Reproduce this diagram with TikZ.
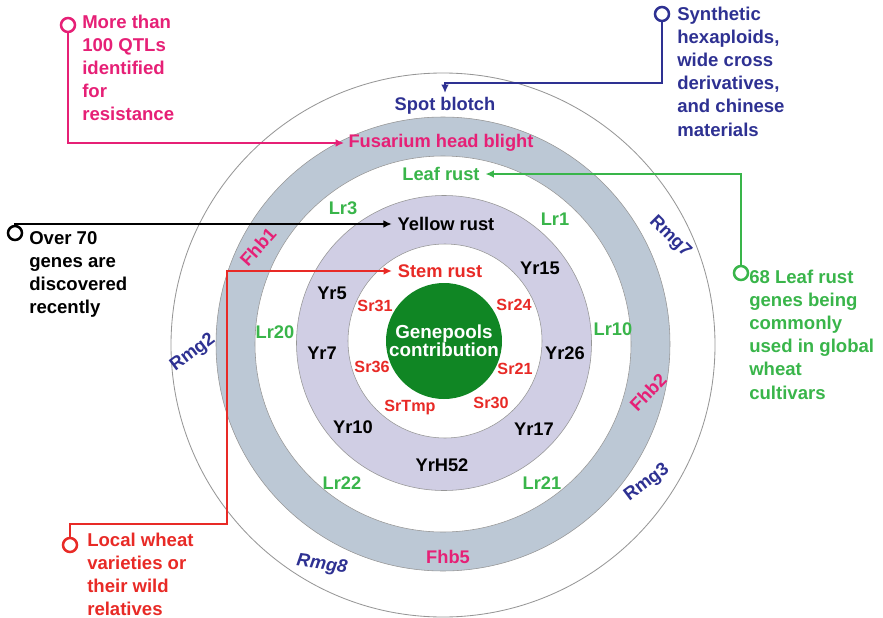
\documentclass[tikz,border=0pt]{standalone}
\usepackage{fontspec}
\setmainfont{Liberation Sans}
\usetikzlibrary{arrows.meta}

\definecolor{spotblue}{RGB}{46,49,146}
\definecolor{fhbpink}{RGB}{230,32,118}
\definecolor{lrgreen}{RGB}{57,181,74}
\definecolor{srred}{RGB}{232,42,38}
\definecolor{poolgreen}{RGB}{16,134,36}
\definecolor{ringgray}{RGB}{188,200,213}
\definecolor{ringpurple}{RGB}{208,206,228}
\definecolor{ringedge}{RGB}{150,150,150}

\begin{document}
\begin{tikzpicture}[x=0.025cm, y=-0.025cm,
	lbl/.style={font=\bfseries\fontsize{13}{15}\selectfont, inner sep=0pt},
	srlbl/.style={font=\bfseries\fontsize{11.5}{13}\selectfont, text=srred, inner sep=0pt},
	note/.style={align=left, anchor=north west, inner sep=0pt, font=\bfseries\fontsize{13.2}{16.4}\selectfont},
	calldot/.style={circle, draw, line width=1.8pt, fill=white, minimum size=3.5mm, inner sep=0pt},
	link/.style={line width=1.9pt, -{Latex[length=6pt,width=5.5pt]}},
	ringline/.style={draw=ringedge, line width=0.4pt}]
	\useasboundingbox (0,0) rectangle (883,618);

	% Draw the rings
	\draw[ringedge, line width=0.6pt] (443,345) circle[radius=272];
	\fill[ringgray, ringline] (443,344) circle[radius=227];
	\fill[white, ringline] (443,344) circle[radius=188];
	\fill[ringpurple, ringline] (444,343) circle[radius=147.5];
	\fill[white, ringline] (445,341) circle[radius=97];
	\fill[poolgreen] (444,341) circle[radius=58];

	\node[lbl, text=white, align=center, font=\bfseries\fontsize{13.4}{13}\selectfont] (pool) at (444,341) {Genepools\\contribution};

	% Disease names
	\node[lbl, text=spotblue, inner sep=3pt] (spot) at (445,106) {Spot blotch};
	\node[lbl, text=fhbpink, inner sep=3pt] (fusarium) at (441,143) {Fusarium head blight};
	\node[lbl, text=lrgreen, inner sep=4pt] (leaf) at (441,174) {Leaf rust};
	\node[lbl, inner sep=4pt] (yellow) at (446,224) {Yellow rust};
	\node[lbl, text=srred, inner sep=4pt] (stem) at (440,271) {Stem rust};

	% Sr genes
	\node[srlbl] (sr31) at (375,306) {Sr31};
	\node[srlbl] (sr24) at (514,305) {Sr24};
	\node[srlbl] (sr36) at (372,367) {Sr36};
	\node[srlbl] (sr21) at (515,369) {Sr21};
	\node[srlbl] (srtmp) at (410,408) {SrTmp};
	\node[srlbl] (sr30) at (491,403) {Sr30};

	% Yr genes
	\node[lbl] (yr15) at (540,268) {Yr15};
	\node[lbl] (yr5) at (332,293) {Yr5};
	\node[lbl] (yr7) at (322,353) {Yr7};
	\node[lbl] (yr26) at (565,353) {Yr26};
	\node[lbl] (yr10) at (353,427) {Yr10};
	\node[lbl] (yr17) at (534,429) {Yr17};
	\node[lbl] (yrh52) at (442,465) {YrH52};

	% Lr genes
	\node[lbl, text=lrgreen] (lr3) at (343,208) {Lr3};
	\node[lbl, text=lrgreen] (lr1) at (555,219) {Lr1};
	\node[lbl, text=lrgreen] (lr20) at (275,332) {Lr20};
	\node[lbl, text=lrgreen] (lr10) at (613,329) {Lr10};
	\node[lbl, text=lrgreen] (lr22) at (342,483) {Lr22};
	\node[lbl, text=lrgreen] (lr21) at (542,483) {Lr21};

	% Fhb genes
	\node[lbl, text=fhbpink, rotate=48] (fhb1) at (258,247) {Fhb1};
	\node[lbl, text=fhbpink, rotate=46] (fhb2) at (648,392) {Fhb2};
	\node[lbl, text=fhbpink] (fhb5) at (448,557) {Fhb5};

	% Rmg genes
	\node[lbl, text=spotblue, rotate=37] (rmg2) at (193,353) {Rmg2};
	\node[lbl, text=spotblue, rotate=-45] (rmg7) at (670,237) {Rmg7};
	\node[lbl, text=spotblue, rotate=37] (rmg3) at (647,483) {Rmg3};
	\node[lbl, text=spotblue, rotate=-8, font=\bfseries\itshape\fontsize{13}{15}\selectfont] (rmg8) at (322,565) {Rmg8};

	% Callouts
	\node[calldot, draw=fhbpink] (pinkdot) at (68,25) {};
	\node[note, text=fhbpink] (pinknote) at (82,15) {More than\\100 QTLs\\identified\\for\\resistance};
	\draw[link, fhbpink] (pinkdot) |- (fusarium.west);

	\node[calldot, draw=spotblue] (bluedot) at (662,14) {};
	\node[note, text=spotblue] (bluenote) at (677,7) {Synthetic\\hexaploids,\\wide cross\\derivatives,\\and chinese\\materials};
	\coordinate (bluebend) at (445,83);
	\draw[link, spotblue] (bluedot) |- (bluebend) -- (spot.north);

	\node[calldot] (blackdot) at (15,233) {};
	\node[note] (blacknote) at (29,231) {Over 70\\genes are\\discovered\\recently};
	\draw[link] (blackdot) |- (yellow.west);

	\node[calldot, draw=lrgreen] (greendot) at (741,273) {};
	\node[note, text=lrgreen] (greennote) at (749,270) {68 Leaf rust\\genes being\\commonly\\used in global\\wheat\\cultivars};
	\draw[link, lrgreen] (greendot) |- (leaf.east);

	\node[calldot, draw=srred] (reddot) at (70,545) {};
	\node[note, text=srred] (rednote) at (87,533) {Local wheat\\varieties or\\their wild\\relatives};
	\coordinate (redbend) at (227,524);
	\draw[link, srred] (reddot) |- (redbend) |- (stem.west);

\end{tikzpicture}
\end{document}
